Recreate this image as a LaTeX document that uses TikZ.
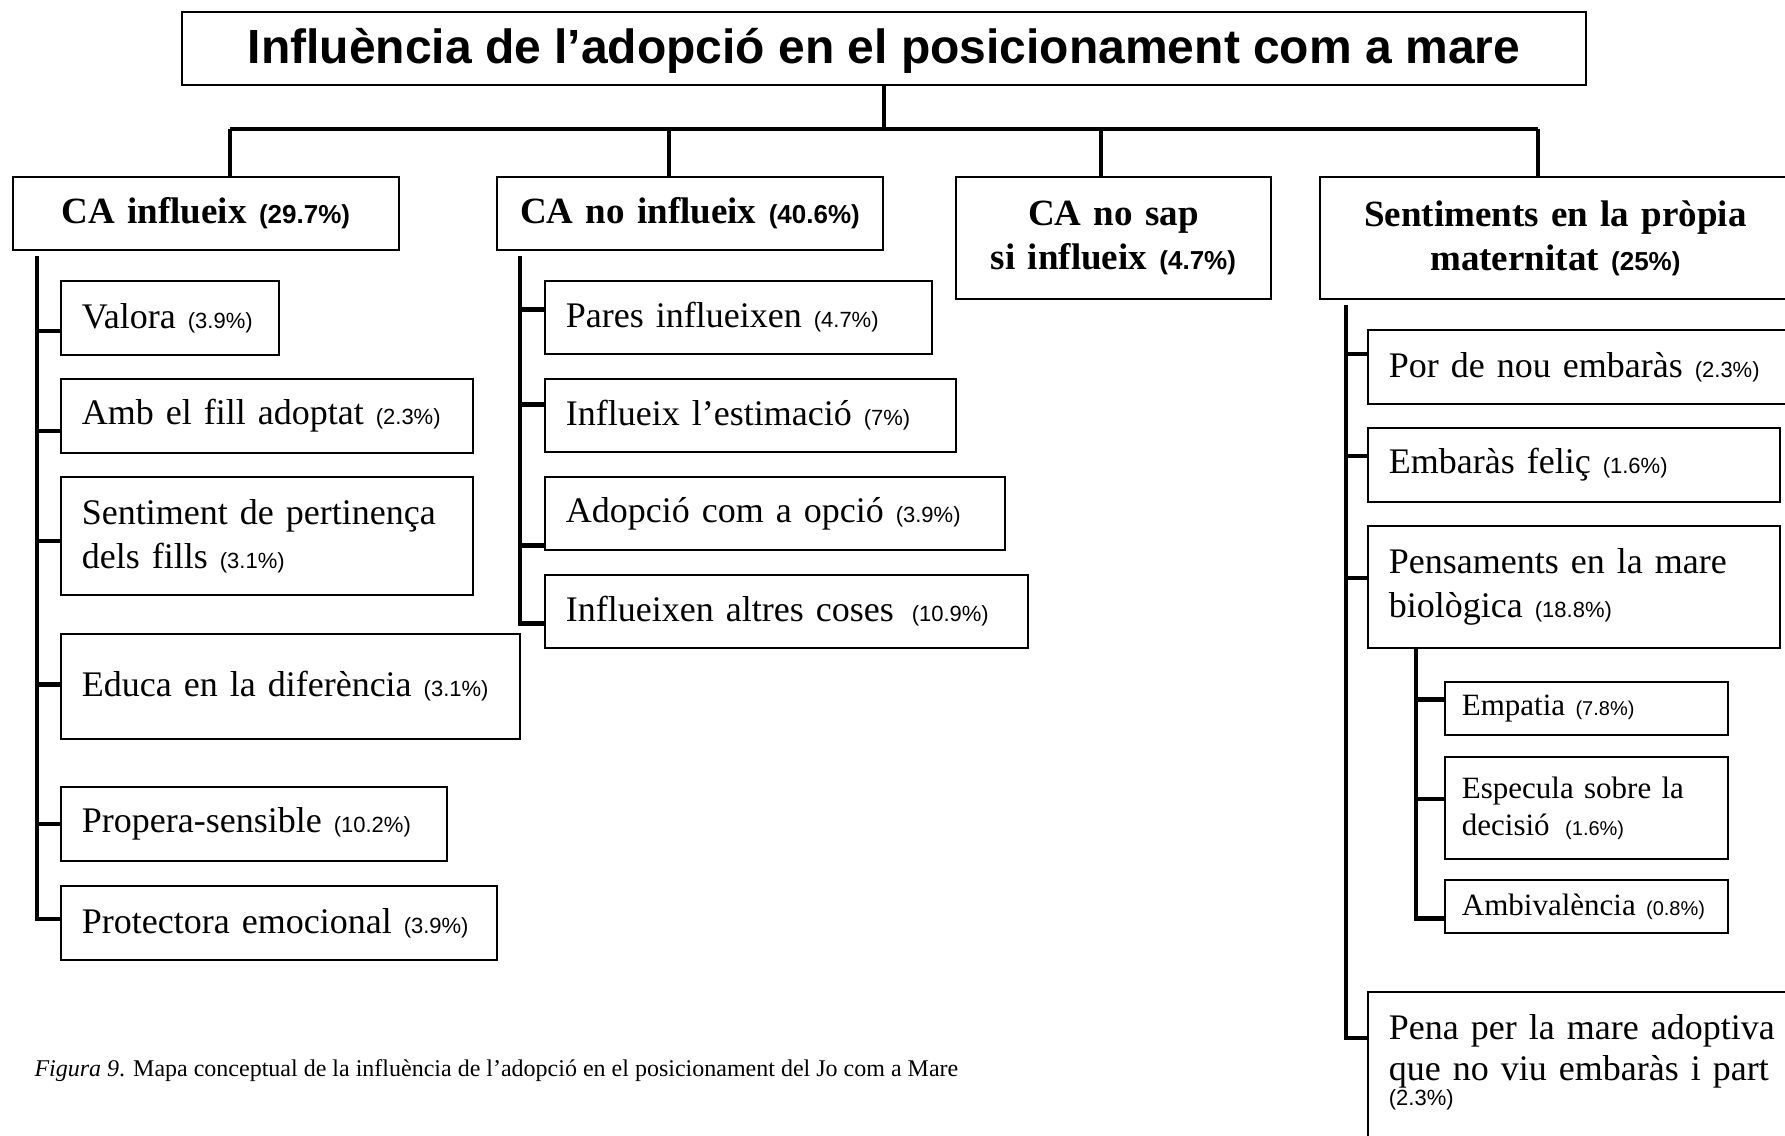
\documentclass[tikz,border=0pt]{standalone}
\usepackage{fontspec}
\setmainfont{Liberation Serif}
\setsansfont{Liberation Sans}
\usepackage{tikz}

\newcommand{\pct}[1]{{\sffamily\mdseries\fontsize{22}{26}\selectfont (#1\%)}}
\newcommand{\pctb}[1]{{\sffamily\bfseries\fontsize{26}{30}\selectfont (#1\%)}}
\newcommand{\pcts}[1]{{\sffamily\fontsize{20}{24}\selectfont (#1\%)}}

\tikzset{
  box/.style={draw=black, line width=1.8pt, rectangle, anchor=north west, inner ysep=0pt},
  head/.style={box, inner xsep=10pt, align=center, font=\bfseries\fontsize{37}{44}\selectfont},
  kid/.style={box, inner xsep=21pt, align=left, font=\fontsize{36}{44}\selectfont},
  subkid/.style={box, inner xsep=17pt, align=left, font=\fontsize{31}{37}\selectfont},
  link/.style={line width=4.5pt, black},
}

\begin{document}
\begin{tikzpicture}[x=1pt, y=-1pt]
\clip (0,0) rectangle (1785,1135);

\node[box, minimum width=1404pt, minimum height=73pt, text depth=5pt, font=\sffamily\bfseries\fontsize{48}{56}\selectfont] (title) at (181,11) {Influència de l’adopció en el posicionament com a mare};

\node[head, minimum height=73pt, text width=366pt] (infl) at (12,176) {CA influeix \pctb{29.7}};
\node[head, minimum height=73pt, text width=366pt] (noinfl) at (496,176) {CA no influeix \pctb{40.6}};
\node[head, minimum height=122pt, text width=295pt] (nosap) at (955,176) {CA no sap\\si influeix \pctb{4.7}};
\node[head, minimum height=122pt, text width=451pt] (sent) at (1319,176) {Sentiments en la pròpia\\maternitat \pctb{25}};

\node[kid, minimum height=74pt, text width=176pt] (valora) at (60,280) {Valora \pct{3.9}};
\node[kid, minimum height=74pt, text width=370pt] (ambfill) at (60,378) {Amb el fill adoptat \pct{2.3}};
\node[kid, minimum height=118pt, text width=370pt] (pertin) at (60,476) {Sentiment de pertinença\\dels fills \pct{3.1}};
\node[kid, minimum height=105pt, text width=417pt] (educa) at (60,633) {Educa en la diferència \pct{3.1}};
\node[kid, minimum height=74pt, text width=344pt] (propera) at (60,786) {Propera-sensible \pct{10.2}};
\node[kid, minimum height=74pt, text width=394pt] (protect) at (60,885) {\mbox{Protectora emocional \pct{3.9}}};

\node[kid, minimum height=73pt, text width=345pt] (pares) at (544,280) {Pares influeixen \pct{4.7}};
\node[kid, minimum height=73pt, text width=369pt] (estima) at (544,378) {Influeix l’estimació \pct{7}};
\node[kid, minimum height=73pt, text width=418pt] (adop) at (544,476) {Adopció com a opció \pct{3.9}};
\node[kid, minimum height=73pt, text width=441pt] (altres) at (544,574) {Influeixen altres coses\enskip\pct{10.9}};

\node[kid, minimum height=74pt, text width=381pt] (por) at (1367,329) {\mbox{Por de nou embaràs \pct{2.3}}};
\node[kid, minimum height=74pt, text width=370pt] (felic) at (1367,427) {Embaràs feliç \pct{1.6}};
\node[kid, minimum height=122pt, text width=370pt] (pensam) at (1367,525) {Pensaments en la mare\\biològica \pct{18.8}};
\node[kid, minimum height=160pt, text depth=89pt, text width=400pt, font=\fontsize{36}{41}\selectfont] (pena) at (1367,991) {\mbox{Pena per la mare adoptiva}\\\mbox{que no viu embaràs i part}\\[-16pt]\pct{2.3}};

\node[subkid, minimum height=53pt, text width=249pt] (empatia) at (1444,681) {Empatia \pcts{7.8}};
\node[subkid, minimum height=102pt, text width=249pt] (especula) at (1444,756) {Especula sobre la\\decisió\enskip\pcts{1.6}};
\node[subkid, minimum height=53pt, text width=249pt] (ambiv) at (1444,879) {Ambivalència \pcts{0.8}};

\node[anchor=west, font=\fontsize{24}{28}\selectfont] (cap) at (31,1071) {\textit{Figura 9}. Mapa conceptual de la influència de l’adopció en el posicionament del Jo com a Mare};

\coordinate (bar) at (0,129);
\coordinate (dA) at (230,129);
\coordinate (dB) at (669,129);
\coordinate (dC) at (1101,129);
\coordinate (dD) at (1538,129);
\draw[link] (title.south) -- (title.south |- bar);
\draw[link] (dA) -- (dD);
\foreach \c/\n in {dA/infl,dB/noinfl,dC/nosap,dD/sent}
  \draw[link] (\c) -- (\c |- \n.north);

\coordinate (tA) at (37,256);
\coordinate (tB) at (520,256);
\coordinate (tC) at (1346,305);
\coordinate (tD) at (1416,647);
\foreach \k/\dy in {valora/-13,ambfill/-15,pertin/-5,educa/2,propera/0,protect/4}
  \draw[link] (tA) |- ([yshift=\dy pt]\k.west);
\foreach \k/\dy in {pares/8,estima/11,adop/-32,altres/-12}
  \draw[link] (tB) |- ([yshift=\dy pt]\k.west);
\foreach \k/\dy in {por/13,felic/9,pensam/9,pena/34}
  \draw[link] (tC) |- ([yshift=\dy pt]\k.west);
\foreach \k/\dy in {empatia/9,especula/9,ambiv/-12}
  \draw[link] (tD) |- ([yshift=\dy pt]\k.west);
\end{tikzpicture}
\end{document}
